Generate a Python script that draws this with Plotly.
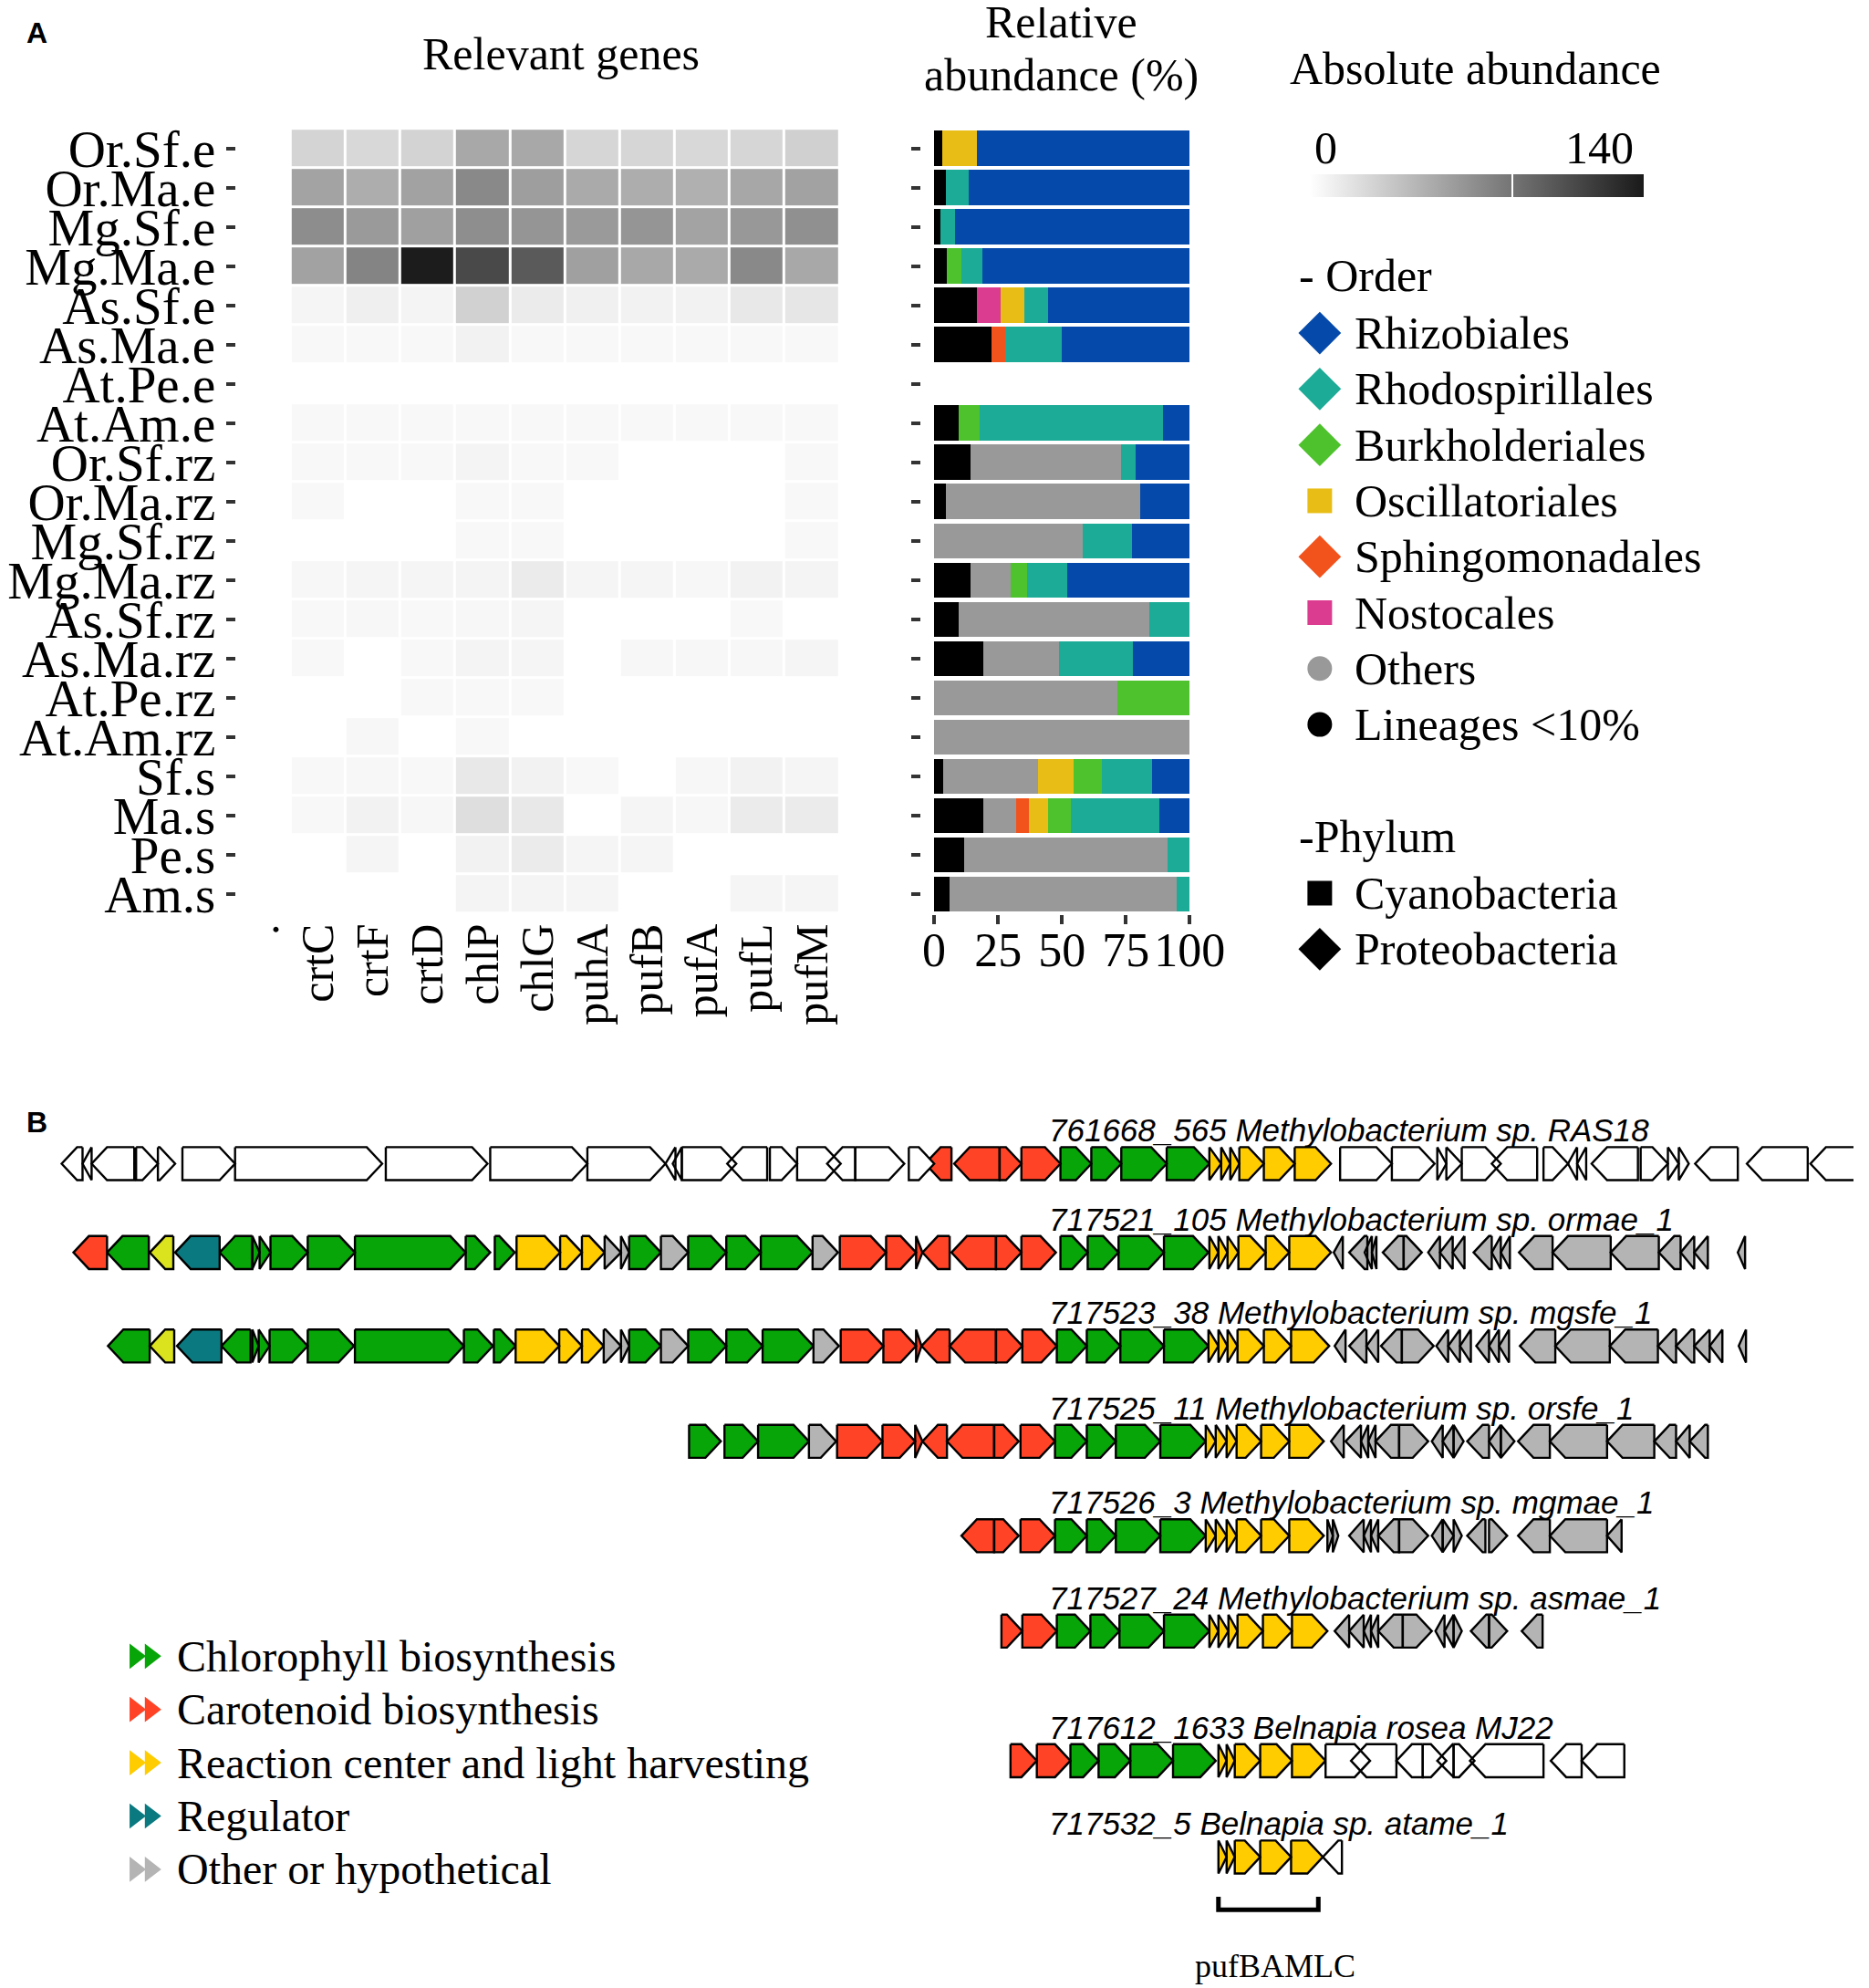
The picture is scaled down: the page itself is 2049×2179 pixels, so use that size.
import plotly.graph_objects as go

W, H = 2049, 2179
SERIF = "Liberation Serif, Times New Roman, serif"
SANS = "Liberation Sans, Arial, sans-serif"

# ---------------- panel A data ----------------
samples = ["Or.Sf.e", "Or.Ma.e", "Mg.Sf.e", "Mg.Ma.e", "As.Sf.e", "As.Ma.e", "At.Pe.e", "At.Am.e",
           "Or.Sf.rz", "Or.Ma.rz", "Mg.Sf.rz", "Mg.Ma.rz", "As.Sf.rz", "As.Ma.rz", "At.Pe.rz", "At.Am.rz",
           "Sf.s", "Ma.s", "Pe.s", "Am.s"]
genes = ["crtC", "crtF", "crtD", "chlP", "chlG", "puhA", "pufB", "pufA", "pufL", "pufM"]
N = None
gene_abund = [
    [26, 24, 27, 53, 53, 25, 25, 24, 25, 29],
    [56, 50, 57, 72, 59, 52, 50, 48, 54, 57],
    [70, 62, 58, 69, 65, 62, 65, 56, 63, 68],
    [57, 75, 139, 111, 101, 58, 53, 52, 72, 53],
    [6, 10, 7, 28, 12, 9, 8, 8, 14, 15],
    [4, 4, 4, 8, 4, 4, 4, 4, 4, 4],
    [N, N, N, N, N, N, N, N, N, N],
    [4, 4, 4, 4, 4, 4, 4, 4, 4, 4],
    [4, 4, 4, 7, 4, 4, N, N, N, 4],
    [4, N, N, 4, 4, N, N, N, N, 4],
    [N, N, N, 4, 4, N, N, N, N, 4],
    [5, 6, 6, 7, 12, 6, 6, 5, 8, 7],
    [4, 5, 4, 5, 6, N, N, N, 4, N],
    [4, N, 4, 7, 6, N, 5, 5, 5, 6],
    [N, N, 4, 4, 4, N, N, N, N, N],
    [N, 5, N, 4, N, N, N, N, N, N],
    [4, 5, 4, 14, 8, 4, N, 5, 8, 6],
    [4, 8, 5, 20, 14, N, 6, 5, 12, 12],
    [N, 6, N, 8, 12, 6, 6, N, N, N],
    [N, N, N, 7, 7, 6, N, N, 6, 6],
]

# relative abundance (%), stacked left to right in this order
lineages = [3.0, 4.7, 2.6, 5.0, 16.7, 22.3, 0, 9.7, 14.1, 4.7, 0, 14.1, 9.7, 19.1, 0, 0, 3.5, 19.1, 11.7, 6.2]
others = [0, 0, 0, 0, 0, 0, 0, 0, 59.0, 75.9, 58.2, 15.8, 74.4, 29.7, 71.6, 100, 37.1, 12.9, 79.8, 88.8]
sphingomonadales = [0, 0, 0, 0, 0, 5.5, 0, 0, 0, 0, 0, 0, 0, 0, 0, 0, 0, 5.0, 0, 0]
nostocales = [0, 0, 0, 0, 9.2, 0, 0, 0, 0, 0, 0, 0, 0, 0, 0, 0, 0, 0, 0, 0]
oscillatoriales = [13.6, 0, 0, 0, 9.4, 0, 0, 0, 0, 0, 0, 0, 0, 0, 0, 0, 14.1, 7.4, 0, 0]
burkholderiales = [0, 0, 0, 5.6, 0, 0, 0, 8.2, 0, 0, 0, 6.5, 0, 0, 28.4, 0, 11.0, 9.2, 0, 0]
rhodospirillales = [0, 8.9, 5.6, 8.3, 9.3, 22.3, 0, 71.6, 5.9, 0, 19.2, 15.5, 15.9, 29.1, 0, 0, 19.6, 34.4, 8.5, 5.0]
rhizobiales = [83.4, 86.4, 91.8, 81.1, 55.4, 49.9, 0, 10.5, 21.0, 19.4, 22.6, 48.1, 0, 22.1, 0, 0, 14.7, 12.0, 0, 0]

stack = [("Lineages <10%", lineages), ("Others", others), ("Sphingomonadales", sphingomonadales),
         ("Nostocales", nostocales), ("Oscillatoriales", oscillatoriales),
         ("Burkholderiales", burkholderiales), ("Rhodospirillales", rhodospirillales),
         ("Rhizobiales", rhizobiales)]
taxon_colors = {"Rhizobiales": "#054aab", "Rhodospirillales": "#1bab96", "Burkholderiales": "#4ec22c",
                "Oscillatoriales": "#e8bd15", "Sphingomonadales": "#f2521c", "Nostocales": "#dc3c8f",
                "Others": "#999999", "Lineages <10%": "#000000"}

legend_order = ["Rhizobiales", "Rhodospirillales", "Burkholderiales", "Oscillatoriales",
                "Sphingomonadales", "Nostocales", "Others", "Lineages <10%"]
legend_order_sym = ["diamond", "diamond", "diamond", "square", "diamond", "square", "circle", "circle"]
legend_phylum = ["Cyanobacteria", "Proteobacteria"]
legend_phylum_sym = ["square", "diamond"]

# ---------------- panel B data (gene start, end in kb, strand, function) ----------------
contig_names = ["761668_565 Methylobacterium sp. RAS18", "717521_105 Methylobacterium sp. ormae_1",
                "717523_38 Methylobacterium sp. mgsfe_1", "717525_11 Methylobacterium sp. orsfe_1",
                "717526_3 Methylobacterium sp. mgmae_1", "717527_24 Methylobacterium sp. asmae_1",
                "717612_1633 Belnapia rosea MJ22", "717532_5 Belnapia sp. atame_1"]
contig_tracks = [0, 0.96, 1.97, 3.0, 4.02, 5.05, 6.45, 7.49]

ras18 = [(0.57, 0.80, -1, "none"), (0.80, 0.90, -1, "none"), (0.90, 1.37, -1, "none"), (1.39, 1.63, 1, "none"),
         (1.63, 1.82, 1, "none"), (1.90, 2.48, 1, "none"), (2.48, 4.10, 1, "none"), (4.14, 5.26, 1, "none"),
         (5.29, 6.36, 1, "none"), (6.36, 7.22, 1, "none"), (7.22, 7.33, -1, "none"), (7.30, 7.40, -1, "none"),
         (7.40, 8.00, 1, "none"), (7.90, 8.34, -1, "none"), (8.37, 8.67, 1, "none"), (8.67, 9.15, 1, "none"),
         (9.00, 9.31, -1, "none"), (9.31, 9.85, 1, "none"), (9.90, 10.18, 1, "none"), (10.08, 10.37, -1, "crt"),
         (10.40, 10.90, -1, "crt"), (10.90, 11.14, 1, "crt"), (11.14, 11.57, 1, "crt"), (11.57, 11.91, 1, "chl"),
         (11.91, 12.24, 1, "chl"), (12.24, 12.74, 1, "chl"), (12.74, 13.21, 1, "chl"), (13.21, 13.34, 1, "rc"),
         (13.34, 13.44, 1, "rc"), (13.44, 13.54, 1, "rc"), (13.54, 13.81, 1, "rc"), (13.81, 14.15, 1, "rc"),
         (14.15, 14.55, 1, "rc"), (14.65, 15.22, 1, "none"), (15.22, 15.69, 1, "none"), (15.72, 15.82, 1, "none"),
         (15.82, 15.99, 1, "none"), (15.99, 16.42, 1, "none"), (16.32, 16.82, -1, "none"), (16.89, 17.16, 1, "none"),
         (17.16, 17.26, -1, "none"), (17.26, 17.36, -1, "none"), (17.42, 17.93, -1, "none"), (17.96, 18.26, 1, "none"),
         (18.26, 18.38, 1, "none"), (18.38, 18.49, 1, "none"), (18.56, 19.03, -1, "none"), (19.13, 19.80, -1, "none"),
         (19.83, 20.33, -1, "none"), (20.36, 20.45, -1, "none")]
ormae = [(0.70, 1.07, -1, "crt"), (1.07, 1.53, -1, "chl"), (1.54, 1.80, -1, "lime"), (1.82, 2.31, -1, "reg"),
         (2.31, 2.67, -1, "chl"), (2.67, 2.75, 1, "chl"), (2.75, 2.87, 1, "chl"), (2.87, 3.28, 1, "chl"),
         (3.28, 3.80, 1, "chl"), (3.80, 5.02, 1, "chl"), (5.02, 5.29, 1, "chl"), (5.34, 5.56, 1, "chl"),
         (5.58, 6.06, 1, "rc"), (6.06, 6.30, 1, "rc"), (6.30, 6.55, 1, "rc"), (6.55, 6.73, 1, "oth"),
         (6.73, 6.82, 1, "oth"), (6.82, 7.17, 1, "chl"), (7.17, 7.47, 1, "oth"), (7.47, 7.89, 1, "chl"),
         (7.89, 8.27, 1, "chl"), (8.27, 8.84, 1, "chl"), (8.84, 9.12, 1, "oth"), (9.14, 9.65, 1, "crt"),
         (9.65, 9.98, 1, "crt"), (9.98, 10.05, 1, "crt"), (10.05, 10.35, -1, "crt"), (10.37, 10.86, -1, "crt"),
         (10.86, 11.14, 1, "crt"), (11.14, 11.52, 1, "crt"), (11.57, 11.87, 1, "chl"), (11.87, 12.21, 1, "chl"),
         (12.21, 12.71, 1, "chl"), (12.71, 13.20, 1, "chl"), (13.21, 13.31, 1, "rc"), (13.31, 13.41, 1, "rc"),
         (13.41, 13.53, 1, "rc"), (13.53, 13.83, 1, "rc"), (13.83, 14.09, 1, "rc"), (14.09, 14.55, 1, "rc"),
         (14.58, 14.68, -1, "oth"), (14.75, 14.95, -1, "oth"), (14.92, 15.00, -1, "oth"), (15.00, 15.05, -1, "oth"),
         (15.12, 15.35, -1, "oth"), (15.35, 15.55, 1, "oth"), (15.62, 15.75, -1, "oth"), (15.75, 15.89, -1, "oth"),
         (15.89, 16.02, -1, "oth"), (16.12, 16.32, -1, "oth"), (16.32, 16.42, -1, "oth"), (16.42, 16.52, -1, "oth"),
         (16.62, 16.99, -1, "oth"), (16.99, 17.63, -1, "oth"), (17.63, 18.16, -1, "oth"), (18.16, 18.40, -1, "oth"),
         (18.40, 18.55, -1, "oth"), (18.55, 18.70, -1, "oth"), (19.03, 19.11, -1, "oth")]
mgsfe = [(1.08, 1.54, -1, "chl"), (1.54, 1.81, -1, "lime"), (1.84, 2.33, -1, "reg"), (2.33, 2.65, -1, "chl"),
         (2.67, 2.74, 1, "chl"), (2.74, 2.86, 1, "chl"), (2.86, 3.28, 1, "chl"), (3.28, 3.79, 1, "chl"),
         (3.80, 5.00, 1, "chl"), (5.00, 5.32, 1, "chl"), (5.33, 5.57, 1, "chl"), (5.57, 6.05, 1, "rc"),
         (6.05, 6.30, 1, "rc"), (6.30, 6.54, 1, "rc"), (6.54, 6.73, 1, "oth"), (6.73, 6.82, 1, "oth"),
         (6.82, 7.17, 1, "chl"), (7.17, 7.47, 1, "oth"), (7.47, 7.89, 1, "chl"), (7.89, 8.29, 1, "chl"),
         (8.29, 8.85, 1, "chl"), (8.85, 9.13, 1, "oth"), (9.15, 9.62, 1, "crt"), (9.62, 9.98, 1, "crt"),
         (9.98, 10.04, 1, "crt"), (10.04, 10.35, -1, "crt"), (10.35, 10.86, -1, "crt"), (10.86, 11.15, 1, "crt"),
         (11.15, 11.53, 1, "crt"), (11.53, 11.86, 1, "chl"), (11.86, 12.23, 1, "chl"), (12.23, 12.71, 1, "chl"),
         (12.71, 13.20, 1, "chl"), (13.20, 13.31, 1, "rc"), (13.31, 13.41, 1, "rc"), (13.41, 13.52, 1, "rc"),
         (13.52, 13.81, 1, "rc"), (13.81, 14.11, 1, "rc"), (14.11, 14.53, 1, "rc"), (14.59, 14.71, -1, "oth"),
         (14.75, 14.94, -1, "oth"), (14.94, 15.07, -1, "oth"), (15.10, 15.33, -1, "oth"), (15.33, 15.68, 1, "oth"),
         (15.71, 15.84, -1, "oth"), (15.84, 15.97, -1, "oth"), (15.97, 16.09, -1, "oth"), (16.15, 16.29, -1, "oth"),
         (16.29, 16.40, -1, "oth"), (16.40, 16.51, -1, "oth"), (16.63, 17.02, -1, "oth"), (17.02, 17.62, -1, "oth"),
         (17.62, 18.15, -1, "oth"), (18.15, 18.35, -1, "oth"), (18.35, 18.55, -1, "oth"), (18.55, 18.72, -1, "oth"),
         (18.72, 18.86, -1, "oth"), (19.04, 19.12, -1, "oth")]
orsfe = [(7.48, 7.83, 1, "chl"), (7.87, 8.24, 1, "chl"), (8.24, 8.80, 1, "chl"), (8.80, 9.10, 1, "oth"),
         (9.11, 9.61, 1, "crt"), (9.61, 9.97, 1, "crt"), (9.97, 10.05, 1, "crt"), (10.05, 10.32, -1, "crt"),
         (10.32, 10.84, -1, "crt"), (10.84, 11.11, 1, "crt"), (11.13, 11.51, 1, "crt"), (11.51, 11.86, 1, "chl"),
         (11.86, 12.18, 1, "chl"), (12.18, 12.67, 1, "chl"), (12.67, 13.17, 1, "chl"), (13.17, 13.28, 1, "rc"),
         (13.28, 13.40, 1, "rc"), (13.40, 13.51, 1, "rc"), (13.51, 13.78, 1, "rc"), (13.78, 14.09, 1, "rc"),
         (14.09, 14.47, 1, "rc"), (14.55, 14.69, -1, "oth"), (14.71, 14.88, -1, "oth"), (14.88, 14.96, -1, "oth"),
         (14.96, 15.04, -1, "oth"), (15.04, 15.30, -1, "oth"), (15.30, 15.62, 1, "oth"), (15.66, 15.78, -1, "oth"),
         (15.78, 15.90, -1, "oth"), (15.90, 16.01, 1, "oth"), (16.05, 16.29, -1, "oth"), (16.29, 16.42, -1, "oth"),
         (16.42, 16.57, 1, "oth"), (16.61, 16.96, -1, "oth"), (16.96, 17.59, -1, "oth"), (17.59, 18.11, -1, "oth"),
         (18.11, 18.35, -1, "oth"), (18.35, 18.50, -1, "oth"), (18.50, 18.70, -1, "oth")]
mgmae = [(10.48, 10.84, -1, "crt"), (10.84, 11.11, 1, "crt"), (11.13, 11.51, 1, "crt"), (11.51, 11.86, 1, "chl"),
         (11.86, 12.18, 1, "chl"), (12.18, 12.67, 1, "chl"), (12.67, 13.17, 1, "chl"), (13.17, 13.28, 1, "rc"),
         (13.28, 13.40, 1, "rc"), (13.40, 13.51, 1, "rc"), (13.51, 13.78, 1, "rc"), (13.78, 14.09, 1, "rc"),
         (14.09, 14.47, 1, "rc"), (14.51, 14.57, 1, "oth"), (14.57, 14.63, 1, "oth"), (14.75, 14.91, -1, "oth"),
         (14.91, 14.99, -1, "oth"), (14.99, 15.07, -1, "oth"), (15.07, 15.30, -1, "oth"), (15.30, 15.62, 1, "oth"),
         (15.66, 15.78, -1, "oth"), (15.78, 15.90, 1, "oth"), (15.90, 15.99, 1, "oth"), (16.05, 16.25, -1, "oth"),
         (16.29, 16.49, 1, "oth"), (16.61, 16.96, -1, "oth"), (16.96, 17.59, -1, "oth"), (17.59, 17.75, -1, "oth")]
asmae = [(10.92, 11.15, 1, "crt"), (11.15, 11.53, 1, "crt"), (11.53, 11.90, 1, "chl"), (11.90, 12.22, 1, "chl"),
         (12.22, 12.71, 1, "chl"), (12.71, 13.21, 1, "chl"), (13.21, 13.31, 1, "rc"), (13.31, 13.42, 1, "rc"),
         (13.42, 13.52, 1, "rc"), (13.52, 13.80, 1, "rc"), (13.80, 14.12, 1, "rc"), (14.12, 14.51, 1, "rc"),
         (14.59, 14.75, -1, "oth"), (14.75, 14.91, -1, "oth"), (14.91, 14.99, -1, "oth"), (14.99, 15.07, -1, "oth"),
         (15.07, 15.34, -1, "oth"), (15.34, 15.66, 1, "oth"), (15.70, 15.80, -1, "oth"), (15.80, 15.90, -1, "oth"),
         (15.90, 15.99, 1, "oth"), (16.09, 16.29, -1, "oth"), (16.29, 16.49, 1, "oth"), (16.65, 16.88, -1, "oth")]
rosea = [(11.02, 11.31, 1, "crt"), (11.31, 11.68, 1, "crt"), (11.68, 11.99, 1, "chl"), (11.99, 12.34, 1, "chl"),
         (12.34, 12.81, 1, "chl"), (12.81, 13.28, 1, "chl"), (13.31, 13.40, 1, "rc"), (13.40, 13.49, 1, "rc"),
         (13.49, 13.77, 1, "rc"), (13.77, 14.12, 1, "rc"), (14.12, 14.49, 1, "rc"), (14.49, 14.98, 1, "none"),
         (14.77, 15.27, -1, "none"), (15.27, 15.56, -1, "none"), (15.56, 15.82, 1, "none"), (15.72, 15.90, -1, "none"),
         (15.90, 16.13, 1, "none"), (16.08, 16.89, -1, "none"), (16.97, 17.31, -1, "none"), (17.31, 17.78, -1, "none")]
atame = [(13.31, 13.40, 1, "rc"), (13.40, 13.49, 1, "rc"), (13.49, 13.77, 1, "rc"), (13.77, 14.11, 1, "rc"),
         (14.11, 14.46, 1, "rc"), (14.46, 14.67, -1, "none")]
contig_genes = [ras18, ormae, mgsfe, orsfe, mgmae, asmae, rosea, atame]

func_colors = {"chl": "#07a507", "crt": "#ff4326", "rc": "#ffcc00", "reg": "#0a7a80",
               "lime": "#dbe21e", "oth": "#b4b4b4", "none": "#ffffff"}
func_legend = [("Chlorophyll biosynthesis", "chl"), ("Carotenoid biosynthesis", "crt"),
               ("Reaction center and light harvesting", "rc"), ("Regulator", "reg"),
               ("Other or hypothetical", "oth")]

# page placement: the page body adds a small offset, compensate for it
SX, OX = 1.00776, 8.0
SY, OY = 1.01038, 18.70


def px(x):
    return (SX * x - OX) / W


def py(y):
    return 1 - (SY * y - OY) / H


# pixel <-> track mapping for panel B
TRACK0, TRACKSTEP = 1275.0, 101.3
GENE_XRANGE = [0.2226, 20.304]


def arrow(s, e, strand, y, h=0.178, head=0.17):
    hl = min(head, e - s)
    if strand > 0:
        xs = [s, e - hl, e, e - hl, s, s, None]
    else:
        xs = [e, s + hl, s, s + hl, e, e, None]
    ys = [y - h, y - h, y, y + h, y + h, y - h, None]
    return xs, ys


fig = go.Figure()

# heatmap
fig.add_trace(go.Heatmap(
    z=gene_abund, x=list(range(1, 11)), y=list(range(len(samples))),
    colorscale=[[0, "#ffffff"], [1, "#1a1a1a"]], zmin=0, zmax=140, xgap=3, ygap=3,
    xaxis="x", yaxis="y", hoverongaps=False,
    colorbar=dict(orientation="h", x=(px(1434.5) + px(1807)) / 2, xanchor="center", y=py(217),
                  yanchor="middle", len=px(1807) - px(1434.5), lenmode="fraction", thickness=25,
                  thicknessmode="pixels", xpad=0, ypad=0, outlinewidth=0, tickvals=[85],
                  ticks="inside", ticklen=25, tickwidth=2, tickcolor="white", showticklabels=False)))

# stacked bars
for name, vals in stack:
    fig.add_trace(go.Bar(x=vals, y=list(range(len(samples))), orientation="h", width=0.9,
                         marker=dict(color=taxon_colors[name], line=dict(width=0)),
                         xaxis="x2", yaxis="y2", showlegend=False, name=name))

ann = []


def txt(x, y, t, size=50, fam=SERIF, xanchor="center"):
    ann.append(dict(x=px(x), y=py(y), xref="paper", yref="paper", text=t, showarrow=False,
                    xanchor=xanchor, yanchor="middle", font=dict(family=fam, size=size, color="black")))


# legend of panel A (markers drawn on a pixel overlay axis)
for i, (nm, sym) in enumerate(zip(legend_order, legend_order_sym)):
    yy = 366 + i * 61.2
    size = 36 if sym == "diamond" else 27
    fig.add_trace(go.Scatter(x=[1446], y=[yy], mode="markers", xaxis="x3", yaxis="y3", showlegend=False,
                             marker=dict(symbol=sym, size=size, color=taxon_colors[nm], line=dict(width=0))))
    txt(1483, yy, nm, xanchor="left")
for i, (nm, sym) in enumerate(zip(legend_phylum, legend_phylum_sym)):
    yy = 979 + i * 61.2
    size = 36 if sym == "diamond" else 27
    fig.add_trace(go.Scatter(x=[1446], y=[yy], mode="markers", xaxis="x3", yaxis="y3", showlegend=False,
                             marker=dict(symbol=sym, size=size, color="black", line=dict(width=0))))
    txt(1483, yy, nm, xanchor="left")

# gene arrows, one trace per function
for fn, col in func_colors.items():
    xs, ys = [], []
    for track, glist in zip(contig_tracks, contig_genes):
        for s, e, st, f in glist:
            if f == fn:
                ax, ay = arrow(s, e, st, track)
                xs += ax
                ys += ay
    if xs:
        fig.add_trace(go.Scatter(x=xs, y=ys, mode="lines", fill="toself", fillcolor=col,
                                 line=dict(color="black", width=2.4), xaxis="x4", yaxis="y4",
                                 showlegend=False, hoverinfo="skip"))

# bracket under pufBAMLC
t8 = contig_tracks[-1]
bx0, bx1 = atame[0][0], atame[4][1] - 0.05
fig.add_trace(go.Scatter(x=[bx0, bx0, bx1, bx1], y=[t8 + 0.43, t8 + 0.57, t8 + 0.57, t8 + 0.43],
                         mode="lines", line=dict(color="black", width=5), xaxis="x4", yaxis="y4",
                         showlegend=False, hoverinfo="skip"))

for track, nm in zip(contig_tracks, contig_names):
    ann.append(dict(x=11.42, y=track - 0.36, xref="x4", yref="y4", text="<i>" + nm + "</i>",
                    showarrow=False, xanchor="left", yanchor="middle",
                    font=dict(family=SANS, size=35, color="black")))
ann.append(dict(x=13.93, y=t8 + 1.18, xref="x4", yref="y4", text="pufBAMLC", showarrow=False,
                font=dict(family=SERIF, size=36, color="black")))

# legend of panel B
for i, (nm, fn) in enumerate(func_legend):
    yy = 1814 + i * 58.3
    fig.add_trace(go.Scatter(x=[125, 142], y=[yy, yy], mode="markers", xaxis="x3", yaxis="y3",
                             showlegend=False,
                             marker=dict(symbol="triangle-right", size=24, color=func_colors[fn],
                                         line=dict(width=0))))
    txt(170, yy, nm, size=48, xanchor="left")

# titles and labels
txt(16, 37, "<b>A</b>", 32, SANS)
txt(16, 1230, "<b>B</b>", 32, SANS)
txt(600, 60, "Relevant genes")
txt(1158, 25, "Relative")
txt(1158, 83, "abundance (%)")
txt(1620, 76, "Absolute abundance")
txt(1453, 163, "0")
txt(1758, 163, "140")
txt(1421, 303, "- Order", xanchor="left")
txt(1421, 917, "-Phylum", xanchor="left")

tickfont = dict(family=SERIF, size=50, color="black")
trk_top = (1180 - TRACK0) / TRACKSTEP
trk_bot = ((H + OY) / SY - TRACK0) / TRACKSTEP
fig.update_layout(
    width=W, height=H, margin=dict(l=0, r=0, t=0, b=0), paper_bgcolor="white",
    plot_bgcolor="rgba(0,0,0,0)", barmode="stack", showlegend=False, annotations=ann,
    xaxis=dict(domain=[px(237.4), px(910.5)], range=[-0.5, 10.5], tickvals=list(range(11)),
               ticktext=["."] + genes, tickangle=-90, tickfont=tickfont, ticks="",
               showgrid=False, zeroline=False, anchor="y"),
    yaxis=dict(domain=[py(1001.5), py(142.5)], range=[19.5, -0.5], tickvals=list(range(len(samples))),
               ticktext=samples, tickfont=dict(family=SERIF, size=57, color="black"), ticks="outside",
               ticklen=10, tickwidth=4, tickcolor="#333333", showgrid=False, zeroline=False, anchor="x"),
    xaxis2=dict(domain=[px(1001.75), px(1315.25)], range=[-5, 105], tickvals=[0, 25, 50, 75, 100],
                tickangle=0, tickfont=dict(family=SERIF, size=52, color="black"), ticks="outside",
                ticklen=10, tickwidth=4, tickcolor="#333333", ticklabelstandoff=-16,
                showgrid=False, zeroline=False, anchor="y2"),
    yaxis2=dict(domain=[py(1001.5), py(142.5)], range=[19.5, -0.5], tickvals=list(range(len(samples))),
                showticklabels=False, ticks="outside", ticklen=10, tickwidth=4, tickcolor="#333333",
                showgrid=False, zeroline=False, anchor="x2"),
    xaxis3=dict(domain=[0, 1], range=[OX / SX, (W + OX) / SX], visible=False, anchor="y3"),
    yaxis3=dict(domain=[0, 1], range=[(H + OY) / SY, OY / SY], visible=False, anchor="x3"),
    xaxis4=dict(domain=[0, 1], range=GENE_XRANGE, visible=False, anchor="y4"),
    yaxis4=dict(domain=[0, py(1180)], range=[trk_bot, trk_top], visible=False, anchor="x4"),
)

fig.write_html("out.html")
